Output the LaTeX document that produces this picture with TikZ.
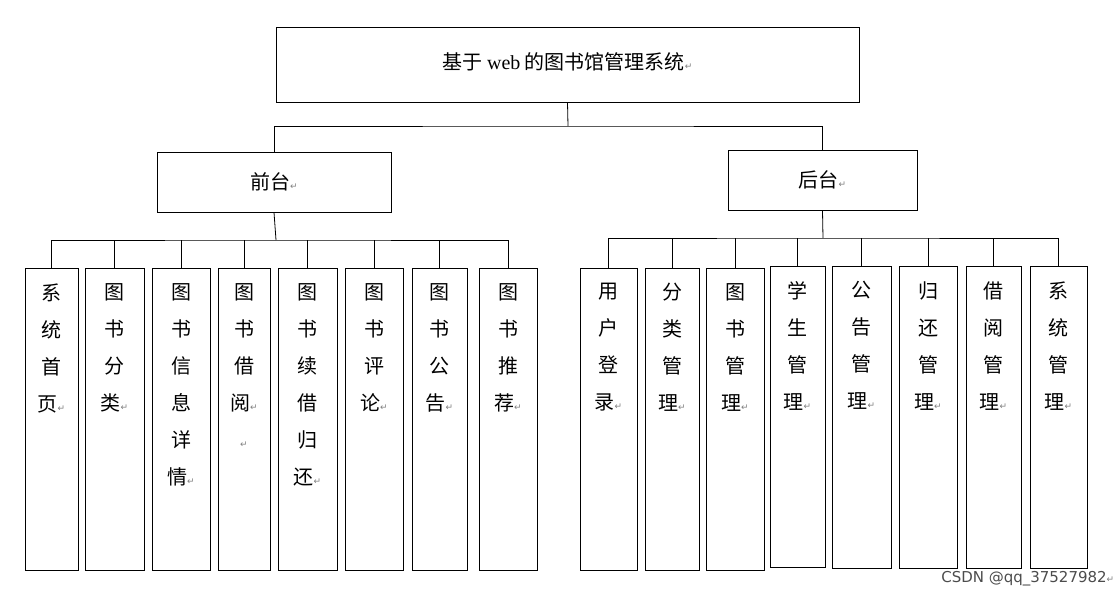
\documentclass[tikz,border=0pt]{standalone}
\usepackage{fontspec}
\setmainfont{Liberation Serif}
\newfontfamily\cjk{Noto Sans CJK SC}
\newfontfamily\dejavu{DejaVu Sans}
\newcommand{\ret}{{\fontsize{9}{9}\dejavu\textcolor{gray}{↵}}}
\tikzset{
    box/.style={draw, thick, inner sep=0pt},
    col/.style={font=\cjk\fontsize{20}{37}\selectfont, align=center, inner sep=0pt}
}
\begin{document}
\begin{tikzpicture}[x=1pt, y=-1pt, line width=0.8pt]
    \useasboundingbox (0,0) rectangle (1120,597);

    \node[box, minimum width=583pt, minimum height=75pt] (root) at (567.5,64.5)
        {\raisebox{7pt}{\fontsize{20}{24}\selectfont\cjk 基于 {\rmfamily web} 的图书馆管理系统\ret}};
    \node[box, minimum width=234pt, minimum height=60pt] (front) at (274,182)
        {\fontsize{20}{24}\selectfont\cjk 前台\ret};
    \node[box, minimum width=189pt, minimum height=60pt] (back) at (822.5,180)
        {\fontsize{20}{24}\selectfont\cjk 后台\ret};

    \coordinate (bus0) at (568,126);
    \draw (root.south) -- (bus0);
    \draw (front.north) |- (bus0) -| (back.north);

    % front-end modules
    \foreach \i/\x/\w/\t in {1/51.5/53/系\\统\\首\\页\ret,
                             2/114.5/59/图\\书\\分\\类\ret,
                             3/181/58/图\\书\\信\\息\\详\\情\ret,
                             4/244/52/图\\书\\借\\阅\ret\\\ret,
                             5/307.5/59/图\\书\\续\\借\\归\\还\ret,
                             6/374/58/图\\书\\评\\论\ret,
                             7/439.5/55/图\\书\\公\\告\ret,
                             8/508/58/图\\书\\推\\荐\ret}{
        \node[box, anchor=north, minimum width=\w pt, minimum height=302pt,
              label={[col, anchor=north, yshift=-15pt]north:{\t}}] (f\i) at (\x,268) {};
    }
    \coordinate (fbus) at (276,240);
    \draw (front.south) -- (fbus);
    \draw (f1.north) |- (fbus) -| (f8.north);
    \foreach \i in {2,...,7} \draw (f\i.north) -- (f\i.north |- fbus);

    % back-end modules
    \foreach \i/\x/\w/\y/\h/\t in {1/608.5/57/268/302/用\\户\\登\\录\ret,
                                   2/672/54/268/302/分\\类\\管\\理\ret,
                                   3/735/58/268/302/图\\书\\管\\理\ret,
                                   4/797.5/55/266/301/学\\生\\管\\理\ret,
                                   5/861.5/59/266/302/公\\告\\管\\理\ret,
                                   6/928/58/266/302/归\\还\\管\\理\ret,
                                   7/993.5/55/266/302/借\\阅\\管\\理\ret,
                                   8/1058.5/57/266/302/系\\统\\管\\理\ret}{
        \node[box, anchor=north, minimum width=\w pt, minimum height=\h pt,
              label={[col, anchor=north, yshift=-15pt]north:{\t}}] (b\i) at (\x,\y) {};
    }
    \coordinate (bbus) at (823,238);
    \draw (back.south) -- (bbus);
    \draw (b1.north) |- (bbus) -| (b8.north);
    \foreach \i in {2,...,7} \draw (b\i.north) -- (b\i.north |- bbus);

    \node[anchor=east, font=\dejavu\fontsize{15}{15}\selectfont, text=gray!60!black] (mark) at (1118,579)
        {CSDN @qq\_37527982\ret};
\end{tikzpicture}
\end{document}
